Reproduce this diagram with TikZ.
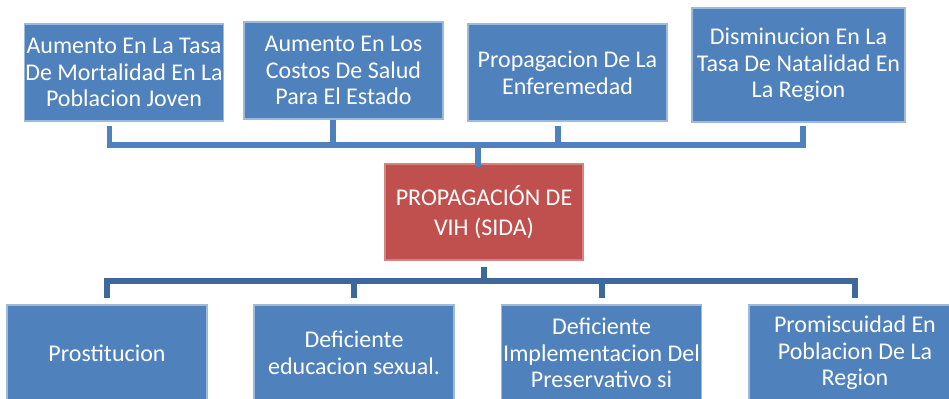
\documentclass[tikz,border=0pt]{standalone}
\usepackage{fontspec}
\setmainfont{Carlito}
\usepackage{xcolor}
\usetikzlibrary{positioning}
\definecolor{boxblue}{RGB}{79,129,189}
\definecolor{boxred}{RGB}{192,80,77}
\definecolor{linedark}{RGB}{61,104,156}
\definecolor{shadowgray}{RGB}{163,163,163}

\begin{document}
\begin{tikzpicture}[semithick,x=1pt,y=1pt]
			\tikzstyle{effect}=[draw=boxblue!55!white,line width=0.6pt,fill=boxblue,text=white,inner sep=0pt,align=center,minimum width=99.5pt,minimum height=48.5pt,font=\fontsize{12}{13.35}\selectfont]
			\tikzstyle{cause}=[effect,minimum width=100pt,minimum height=48pt]
			\tikzstyle{problem}=[effect,draw=boxred!70!white,fill=boxred,minimum width=99pt,minimum height=48pt,font=\fontsize{12}{15}\selectfont]
			\tikzstyle{topline}=[draw=boxblue,line width=2.6pt]
			\tikzstyle{shadowline}=[draw=shadowgray,line width=2.6pt,xshift=1.5pt,yshift=-2.5pt]
			\tikzstyle{botline}=[draw=linedark,line width=3pt]
			\path[use as bounding box,clip] (0,0) rectangle (474.5,-199.5);
			% effects
			\node[effect]    (t1) at (62,-36.25)                                {Aumento En La Tasa\\De Mortalidad En La\\Poblacion Joven};
			\node[effect]    (t2)[right of=t1,node distance=109.75pt,yshift=1pt] {Aumento En Los\\Costos De Salud\\Para El Estado};
			\node[effect]    (t3)[right of=t2,node distance=112pt,yshift=-1pt]   {Propagacion De La\\Enferemedad};
			\node[effect,minimum width=106.5pt,minimum height=57pt] (t4)[right of=t3,node distance=115.5pt,yshift=3.75pt] {Disminucion En La\\Tasa De Natalidad En\\La Region};
			% problem
			\node[problem]   (c) at (242,-106)                                  {PROPAGACIÓN DE\\VIH (SIDA)};
			% causes
			\node[cause]     (b1) at (53.5,-176.5)                              {Prostitucion};
			\node[cause]     (b2)[right of=b1,node distance=123.5pt]            {Deficiente\\educacion sexual.};
			\node[cause]     (b3)[right of=b2,node distance=123.75pt]           {Deficiente\\Implementacion Del\\Preservativo si};
			\node[cause,minimum width=106pt] (b4)[right of=b3,node distance=126.75pt] {Promiscuidad En\\Poblacion De La\\Region};
			% top connectors
			\coordinate (tbus) at (0,-72.5);
			\coordinate (s1) at ([xshift=-7.25pt,yshift=-2pt]t1.south);
			\coordinate (s2) at ([xshift=-5.25pt]t2.south);
			\coordinate (s3) at ([xshift=-4.75pt,yshift=-2pt]t3.south);
			\coordinate (s4) at ([xshift=2.25pt,yshift=-1.5pt]t4.south);
			\draw[shadowline] (s1 |- tbus) -- (s4 |- tbus);
			\draw[topline] (s1) |- (s4 |- tbus) -- (s4);
			\draw[topline] (s2) -- (s2 |- tbus);
			\draw[topline] (s3) -- (s3 |- tbus);
			\draw[topline] ([xshift=-3pt]c.north |- tbus) -- ([xshift=-3pt,yshift=-2pt]c.north);
			% bottom connectors
			\coordinate (bbus) at (0,-140.5);
			\coordinate (p1) at ([yshift=3pt]b1.north);
			\coordinate (p2) at ([yshift=3pt]b2.north);
			\coordinate (p3) at ([yshift=3pt]b3.north);
			\coordinate (p4) at ([yshift=3pt]b4.north);
			\draw[botline] ([yshift=-3pt]c.south) -- (c.south |- bbus);
			\draw[botline] (p1) |- (p4 |- bbus) -- (p4);
			\draw[botline] (p2) -- (p2 |- bbus);
			\draw[botline] (p3) -- (p3 |- bbus);
		\end{tikzpicture}
\end{document}
